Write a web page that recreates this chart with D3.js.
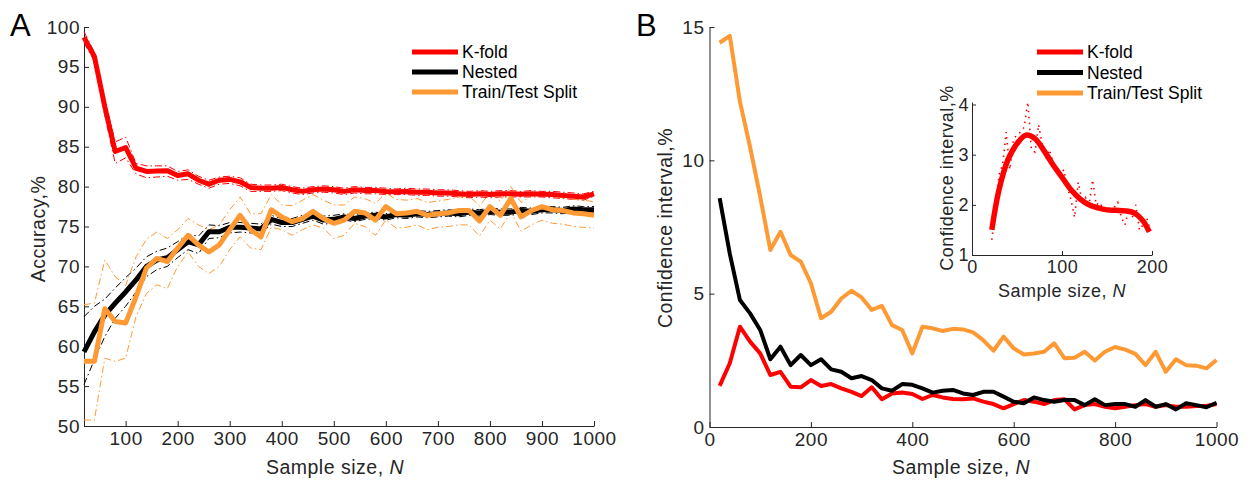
<!DOCTYPE html>
<html>
<head>
<meta charset="utf-8">
<script src="https://cdn.jsdelivr.net/npm/d3@7"></script>
<style>
  html, body { margin: 0; padding: 0; background: #fff; }
  svg { display: block; font-family: Arial, "Liberation Sans", Helvetica, sans-serif; }
</style>
</head>
<body>
<svg id="chart" width="1256" height="482"></svg>
<script>
// ---------------- DATA ----------------
const sampleSizes = [20,40,60,80,100,120,140,160,180,200,220,240,260,280,300,320,340,360,380,400,
  420,440,460,480,500,520,540,560,580,600,620,640,660,680,700,720,740,760,780,800,
  820,840,860,880,900,920,940,960,980,1000];

const seriesNames = ["K-fold", "Nested", "Train/Test Split"];

// Panel A: accuracy (%)
const kfoldAcc = [98.7,96.3,90.0,84.4,84.9,82.3,81.9,81.95,82.0,81.4,81.6,80.8,80.3,80.8,80.9,80.6,79.9,79.8,79.8,79.9,
  79.6,79.4,79.6,79.7,79.6,79.4,79.6,79.5,79.5,79.4,79.35,79.4,79.3,79.3,79.2,79.2,79.1,79.0,79.1,79.0,
  79.1,79.1,79.05,79.1,79.05,79.0,78.9,78.8,78.7,79.1];
const kfoldUpper = [99.4,96.8,90.8,85.6,86.2,82.9,82.6,82.6,82.6,81.9,82.1,81.3,80.8,81.2,81.3,81.1,80.3,80.2,80.2,80.3,
  80.0,79.8,80.0,80.1,80.0,79.8,80.0,79.9,79.9,79.8,79.7,79.8,79.7,79.7,79.6,79.6,79.5,79.4,79.5,79.4,
  79.5,79.5,79.4,79.5,79.4,79.4,79.3,79.2,79.1,79.4];
const kfoldLower = [98.0,95.7,88.9,82.9,83.6,81.6,81.1,81.2,81.3,80.8,80.9,80.3,79.8,80.3,80.4,80.1,79.4,79.4,79.4,79.5,
  79.2,79.0,79.2,79.3,79.2,79.0,79.2,79.1,79.1,79.0,79.0,79.0,78.9,78.9,78.8,78.8,78.7,78.6,78.7,78.6,
  78.7,78.7,78.7,78.7,78.7,78.6,78.5,78.4,78.3,78.8];

const nestedAcc = [59.3,61.8,63.9,65.4,66.8,68.3,70.0,70.8,71.1,72.1,73.1,72.7,74.35,74.35,74.9,74.9,74.8,74.7,75.9,75.5,
  75.5,75.9,76.3,75.8,75.9,76.2,76.0,76.3,76.4,76.2,76.5,76.4,76.6,76.5,76.6,76.7,76.6,76.8,76.7,76.9,
  76.8,76.8,77.0,76.9,77.1,77.1,77.0,77.2,77.1,77.1];
const nestedUpper = [63.7,65.0,65.9,67.3,68.6,69.8,71.2,71.9,72.3,73.1,74.0,73.8,75.2,75.1,75.5,75.5,75.4,75.3,76.4,76.0,
  76.0,76.4,76.8,76.3,76.4,76.6,76.4,76.7,76.8,76.6,76.9,76.8,77.0,76.9,77.0,77.1,77.0,77.2,77.1,77.3,
  77.2,77.2,77.4,77.3,77.5,77.5,77.4,77.6,77.5,77.5];
const nestedLower = [55.2,58.3,61.2,63.5,65.0,66.8,68.7,69.6,70.0,71.1,72.1,71.6,73.5,73.6,74.2,74.3,74.2,74.1,75.3,75.0,
  75.0,75.4,75.8,75.3,75.4,75.8,75.6,75.9,76.0,75.8,76.1,76.0,76.2,76.1,76.2,76.3,76.2,76.4,76.3,76.5,
  76.4,76.4,76.6,76.5,76.7,76.7,76.6,76.8,76.7,76.7];

const splitAcc = [58.1,58.1,64.7,63.1,62.9,66.2,69.8,71.0,70.6,72.3,73.9,72.7,71.8,72.7,74.6,76.4,74.6,73.7,77.1,76.2,
  75.6,76.0,76.9,76.0,75.4,75.8,76.9,76.7,75.8,77.5,76.6,76.7,76.9,76.4,76.6,76.7,77.0,77.0,75.7,77.5,
  76.4,78.5,76.2,77.0,77.5,77.1,77.0,76.7,76.6,76.4];
const splitUpper = [65.2,65.4,70.8,68.7,67.6,71.2,73.4,74.3,73.5,74.6,76.0,75.2,74.6,75.2,77.1,78.7,76.6,76.6,79.0,77.7,
  77.6,78.3,79.0,78.3,77.7,77.7,78.7,78.5,77.9,79.2,78.4,78.3,78.5,78.0,78.2,78.4,78.7,78.8,77.6,79.2,
  78.2,80.0,78.0,78.8,79.1,78.8,78.6,78.4,78.3,78.1];
const splitLower = [50.75,50.75,58.5,58.1,58.5,63.7,66.6,67.7,67.2,70.0,71.8,70.0,69.1,70.0,72.1,73.7,72.3,72.1,74.9,74.6,
  73.9,74.6,75.2,74.8,73.5,73.9,75.4,75.0,73.9,75.8,74.8,74.9,75.2,74.6,74.9,75.0,75.2,75.2,73.8,75.8,
  74.7,76.8,74.4,75.2,75.8,75.4,75.3,75.0,74.9,74.8];

// Panel B: confidence interval (%)
const kfoldCI = [1.54,2.39,3.76,3.2,2.76,1.95,2.07,1.51,1.49,1.76,1.54,1.61,1.45,1.32,1.16,1.49,1.04,1.26,1.29,1.24,
  1.05,1.2,1.11,1.05,1.04,1.07,0.95,0.86,0.7,0.86,1.01,0.95,0.86,1.01,1.04,0.66,0.82,0.86,0.76,0.7,
  0.76,0.82,0.86,0.76,0.82,0.76,0.76,0.79,0.79,0.86];
const nestedCI = [8.58,6.5,4.76,4.26,3.64,2.54,3.01,2.32,2.7,2.32,2.54,2.16,2.07,1.83,1.91,1.76,1.45,1.36,1.61,1.58,
  1.45,1.29,1.36,1.39,1.26,1.2,1.32,1.32,1.14,0.95,0.89,1.11,1.01,0.95,1.01,1.01,0.82,1.04,0.82,0.86,
  0.86,0.76,1.01,0.76,0.86,0.66,0.89,0.82,0.74,0.91];
const splitCI = [14.41,14.67,12.2,10.5,8.64,6.64,7.32,6.45,6.2,5.39,4.08,4.32,4.82,5.11,4.86,4.39,4.54,3.82,3.64,2.76,
  3.76,3.7,3.6,3.68,3.66,3.55,3.26,2.86,3.39,2.95,2.72,2.76,2.82,3.14,2.58,2.6,2.82,2.49,2.82,3.0,
  2.9,2.74,2.32,2.82,2.07,2.54,2.32,2.3,2.2,2.51];

// Inset: K-fold confidence interval for small N
const insetRawN = [22,26,30,34,38,42,46,50,54,58,62,66,70,74,78,82,86,90,94,98,102,106,110,114,118,122,126,130,134,138,
  142,146,150,154,158,162,166,170,174,178,182,186,190,194,198];
const insetRawCI = [1.3,1.9,2.6,2.8,3.45,2.7,3.3,3.4,3.45,3.55,4.05,3.1,3.05,3.6,3.2,2.9,3.1,2.85,2.7,2.6,2.7,2.35,2.1,1.75,2.45,
  2.1,2.15,2.0,2.5,2.0,2.05,1.9,1.95,1.92,1.95,2.05,1.75,1.6,1.9,1.75,2.0,1.5,1.6,1.75,1.5];
const insetFitN = [22,30,40,50,60,70,80,90,100,110,120,130,140,150,160,170,180,190,197];
const insetFitCI = [1.5,2.3,2.9,3.22,3.39,3.32,3.08,2.8,2.55,2.3,2.12,2.0,1.94,1.9,1.89,1.88,1.84,1.68,1.46];

const accTicks = [50,55,60,65,70,75,80,85,90,95,100];
const accXTicks = [100,200,300,400,500,600,700,800,900,1000];
const ciTicks = [0,5,10,15];
const ciXTicks = [0,200,400,600,800,1000];
const insetYTicks = [1,2,3,4];
const insetXTicks = [0,100,200];

// ---------------- STYLE ----------------
const colors = ["#ff0000", "#000000", "#ff9933"];
const axisColor = "#262626";
const fontFam = "Arial, 'Liberation Sans', sans-serif";

const svg = d3.select("#chart");
svg.append("rect").attr("width", 1256).attr("height", 482).attr("fill", "#fff");

function styleAxis(g, fs) {
  g.select(".domain").attr("stroke", axisColor).attr("stroke-width", 1);
  g.selectAll(".tick line").attr("stroke", axisColor).attr("stroke-width", 1);
  g.selectAll(".tick text").attr("fill", axisColor).style("font-size", fs + "px")
    .style("font-family", fontFam).style("letter-spacing", "0.5px");
}
function axisLabel(g, x, y, fs, parts, rotate) {
  const t = g.append("text").attr("text-anchor", "middle").style("font-size", fs + "px")
    .style("letter-spacing", "0.5px").attr("fill", axisColor);
  if (rotate) t.attr("transform", `translate(${x},${y}) rotate(-90)`);
  else t.attr("x", x).attr("y", y);
  parts.forEach(p => {
    const s = t.append("tspan").text(p[0]);
    if (p[1]) s.style("font-style", "italic");
  });
}

// ---------- Panel A ----------
const xA = d3.scaleLinear().domain([20, 1000]).range([84, 594]);
const yA = d3.scaleLinear().domain([50, 100]).range([426, 27]);

const gA = svg.append("g");
gA.append("g").attr("transform", "translate(0,426)")
  .call(d3.axisBottom(xA).tickValues(accXTicks).tickSizeInner(-5).tickSizeOuter(0).tickPadding(6).tickFormat(d3.format("d")))
  .call(g => styleAxis(g, 19));
gA.append("g").attr("transform", "translate(84,0)")
  .call(d3.axisLeft(yA).tickValues(accTicks).tickSizeInner(-5).tickSizeOuter(0).tickPadding(4).tickFormat(d3.format("d")))
  .call(g => styleAxis(g, 19));

const lineA = (arr) => d3.line().x((d, i) => xA(sampleSizes[i])).y(d => yA(d))(arr);

const bandsA = [[kfoldUpper, kfoldLower], [nestedUpper, nestedLower], [splitUpper, splitLower]];
const meansA = [kfoldAcc, nestedAcc, splitAcc];

meansA.forEach((m, s) => {
  bandsA[s].forEach(b => {
    gA.append("path").attr("d", lineA(b)).attr("fill", "none").attr("stroke", colors[s])
      .attr("stroke-width", 1).attr("stroke-dasharray", "7,3,1.5,3");
  });
});
meansA.forEach((m, s) => {
  gA.append("path").attr("d", lineA(m)).attr("fill", "none").attr("stroke", colors[s])
    .attr("stroke-width", 5).attr("stroke-linejoin", "round");
});

// Legend A
const legA = gA.append("g");
seriesNames.forEach((n, i) => {
  const y = 52 + i * 20;
  legA.append("line").attr("x1", 412).attr("x2", 458).attr("y1", y).attr("y2", y)
    .attr("stroke", colors[i]).attr("stroke-width", 5);
  legA.append("text").attr("x", 462).attr("y", y).attr("dy", "0.35em")
    .style("font-size", "17.5px").attr("fill", "#000").text(n);
});

axisLabel(gA, 45, 229, 19.5, [["Accuracy,%"]], true);
axisLabel(gA, 335, 474, 19.5, [["Sample size, "], ["N", true]], false);
svg.append("text").attr("x", 10).attr("y", 36).style("font-size", "31px").attr("fill", "#000").text("A");

// ---------- Panel B ----------
const xB = d3.scaleLinear().domain([0, 1000]).range([709.5, 1216.5]);
const yB = d3.scaleLinear().domain([0, 15]).range([427, 27]);

const gB = svg.append("g");
gB.append("g").attr("transform", "translate(0,427)")
  .call(d3.axisBottom(xB).tickValues(ciXTicks).tickSizeInner(-5).tickSizeOuter(0).tickPadding(6).tickFormat(d3.format("d")))
  .call(g => styleAxis(g, 19));
gB.append("g").attr("transform", "translate(709.5,0)")
  .call(d3.axisLeft(yB).tickValues(ciTicks).tickSizeInner(-5).tickSizeOuter(0).tickPadding(5).tickFormat(d3.format("d")))
  .call(g => styleAxis(g, 19));

const lineB = (arr) => d3.line().x((d, i) => xB(sampleSizes[i])).y(d => yB(d))(arr);
[kfoldCI, nestedCI, splitCI].forEach((arr, s) => {
  gB.append("path").attr("d", lineB(arr)).attr("fill", "none").attr("stroke", colors[s])
    .attr("stroke-width", 4).attr("stroke-linejoin", "round");
});

const legB = gB.append("g");
seriesNames.forEach((n, i) => {
  const y = 52 + i * 20.5;
  legB.append("line").attr("x1", 1037).attr("x2", 1083).attr("y1", y).attr("y2", y)
    .attr("stroke", colors[i]).attr("stroke-width", 5);
  legB.append("text").attr("x", 1087).attr("y", y).attr("dy", "0.35em")
    .style("font-size", "17.5px").attr("fill", "#000").text(n);
});

axisLabel(gB, 672, 228, 19.5, [["Confidence interval,%"]], true);
axisLabel(gB, 961, 474, 19.5, [["Sample size, "], ["N", true]], false);
svg.append("text").attr("x", 636).attr("y", 36).style("font-size", "31px").attr("fill", "#000").text("B");

// ---------- Inset ----------
const xI = d3.scaleLinear().domain([0, 200]).range([972, 1152]);
const yI = d3.scaleLinear().domain([1, 4.05]).range([255, 102]);
const gI = svg.append("g");
gI.append("g").attr("transform", "translate(0,255)")
  .call(d3.axisBottom(xI).tickValues(insetXTicks).tickSizeInner(-4).tickSizeOuter(0).tickPadding(5).tickFormat(d3.format("d")))
  .call(g => styleAxis(g, 18));
gI.append("g").attr("transform", "translate(972,0)")
  .call(d3.axisLeft(yI).tickValues(insetYTicks).tickSizeInner(-4).tickSizeOuter(0).tickPadding(3).tickFormat(d3.format("d")))
  .call(g => styleAxis(g, 18));

gI.append("path")
  .attr("d", d3.line().x((d, i) => xI(insetRawN[i])).y(d => yI(d))(insetRawCI))
  .attr("fill", "none").attr("stroke", colors[0]).attr("stroke-width", 1.6).attr("stroke-dasharray", "1.5,4.5");
gI.append("path")
  .attr("d", d3.line().curve(d3.curveCatmullRom).x((d, i) => xI(insetFitN[i])).y(d => yI(d))(insetFitCI))
  .attr("fill", "none").attr("stroke", colors[0]).attr("stroke-width", 5.5).attr("stroke-linejoin", "round");

axisLabel(gI, 953, 178, 18, [["Confidence interval,%"]], true);
axisLabel(gI, 1062, 297, 18, [["Sample size, "], ["N", true]], false);
</script>
</body>
</html>
